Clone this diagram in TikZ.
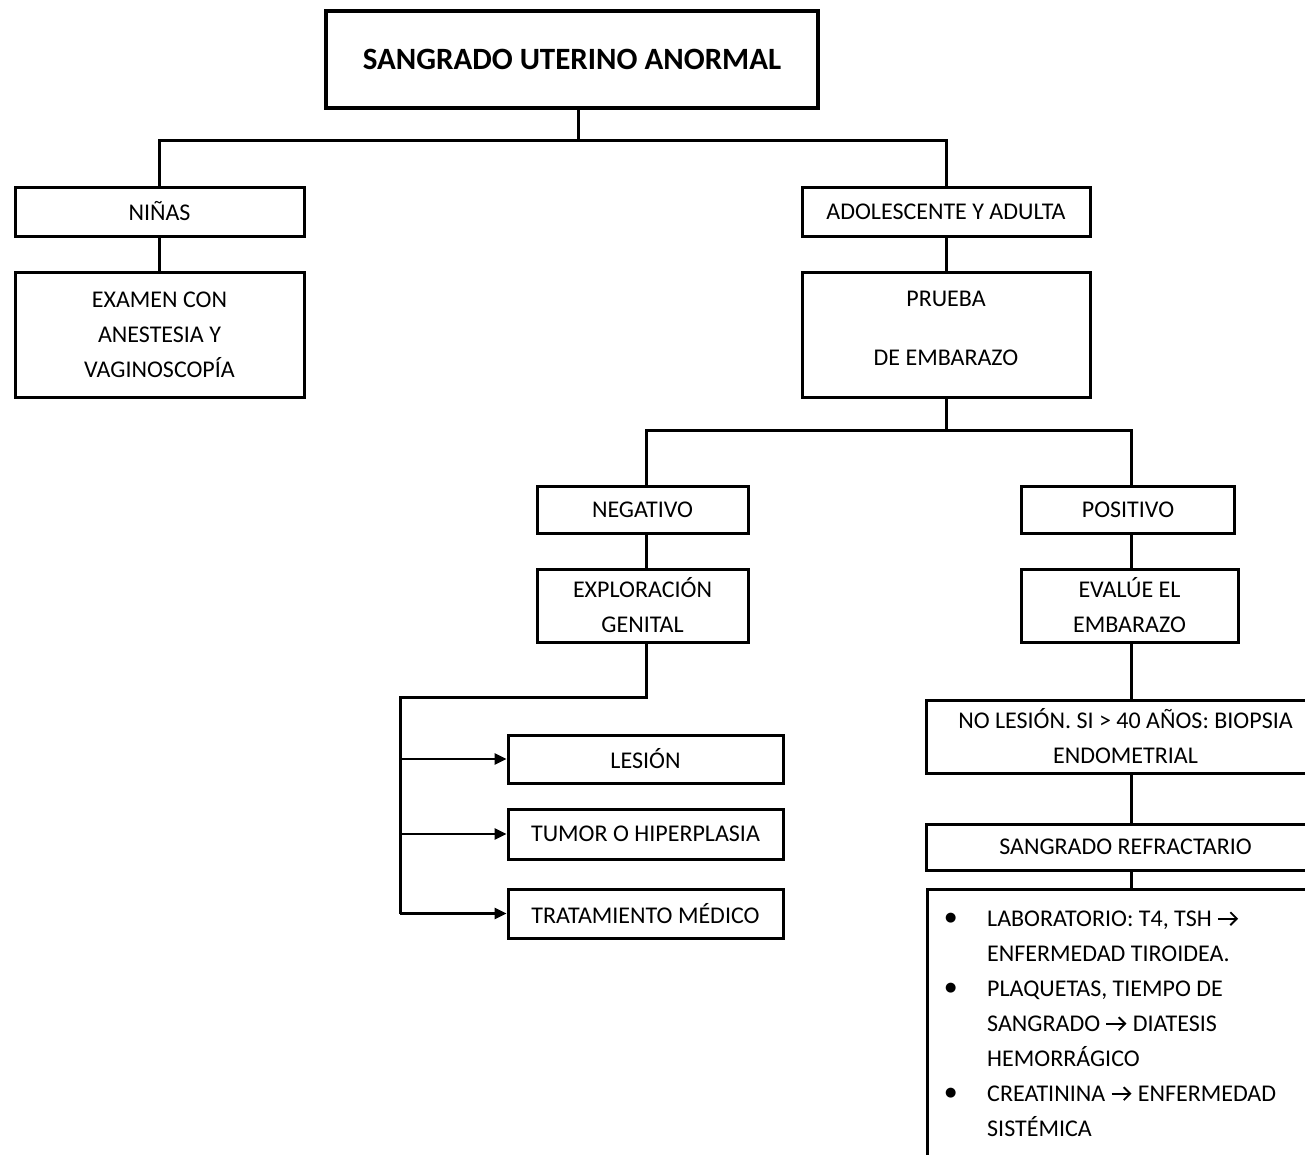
\documentclass[tikz,border=0pt]{standalone}
\usepackage{fontspec}
\setmainfont{Carlito}
\newfontfamily\symfont{DejaVu Sans}
\usetikzlibrary{arrows.meta}
% inline arrow used inside the lab list
\newcommand{\arr}{\tikz[baseline={(0pt,-8pt)},x=1pt,y=-1pt]
  \draw[line width=1.8pt,-{Straight Barb[length=6.5pt,width=13pt,line width=1.8pt]}] (0,0) -- (20,0);}
\newcommand{\blt}{\raisebox{5pt}{\symfont\fontsize{13}{13}\selectfont ●}}
\begin{document}
\begin{tikzpicture}[x=1pt,y=-1pt,
  box/.style={draw,line width=3pt,rectangle,inner sep=0pt,align=center,
    font=\fontsize{24}{35}\selectfont},
  link/.style={line width=3pt},
  arrowlink/.style={line width=2.6pt,-{Triangle[length=12pt,width=11pt]}}]
\useasboundingbox (0,0) rectangle (1305,1154);
\clip (0,0) rectangle (1305,1154);

% top level
\node[box,line width=3.6pt,minimum width=492pt,minimum height=97pt,
  font=\fontsize{31}{36}\selectfont\bfseries] (title) at (572,59.5) {SANGRADO UTERINO ANORMAL};

% left branch
\node[box,minimum width=289pt,minimum height=49pt] (ninas) at (159.5,211.5) {NIÑAS};
\node[box,minimum width=289pt,minimum height=125pt] (examen) at (159.5,334.5)
  {EXAMEN CON\\ANESTESIA Y\\VAGINOSCOPÍA};

% right branch
\node[box,minimum width=288pt,minimum height=49pt] (adol) at (946,211.5) {ADOLESCENTE Y ADULTA};
\node[box,minimum width=288pt,minimum height=125pt] (prueba) at (946,334.5)
  {PRUEBA\\[24pt]DE EMBARAZO\\[-23pt]\mbox{}};

% pregnancy test outcomes
\node[box,minimum width=211pt,minimum height=47pt] (neg) at (642.5,509.5) {NEGATIVO};
\node[box,minimum width=211pt,minimum height=73pt] (expl) at (642.5,605.5) {EXPLORACIÓN\\GENITAL};
\node[box,minimum width=213pt,minimum height=47pt] (pos) at (1128,509.5) {POSITIVO};
\node[box,minimum width=217pt,minimum height=73pt] (eval) at (1129.5,605.5) {EVALÚE EL\\EMBARAZO};

% findings after genital exploration
\node[box,minimum width=275pt,minimum height=48pt] (lesion) at (645.5,759) {LESIÓN};
\node[box,minimum width=275pt,minimum height=50pt] (tumor) at (645.5,834) {TUMOR O HIPERPLASIA};
\node[box,minimum width=275pt,minimum height=49pt] (trat) at (645.5,913.5) {TRATAMIENTO MÉDICO};

% positive test path
\node[box,minimum width=399pt,minimum height=73pt] (nolesion) at (1125.5,736.5)
  {NO LESIÓN. SI > 40 AÑOS: BIOPSIA\\ENDOMETRIAL};
\node[box,minimum width=399pt,minimum height=46pt] (refr) at (1125.5,847) {SANGRADO REFRACTARIO};
\node[box,anchor=north west,minimum width=399pt,minimum height=290pt] (labs) at (926,888) {};
\node[anchor=north west,inner sep=0pt,font=\fontsize{24}{35}\selectfont] (labtext) at (945,902)
  {\begin{tabular}{@{}p{42pt}@{}l@{}}
   \blt & LABORATORIO: T4, TSH \arr\\
     & ENFERMEDAD TIROIDEA.\\
   \blt & PLAQUETAS, TIEMPO DE\\
     & SANGRADO \arr\ DIATESIS\\
     & HEMORRÁGICO\\
   \blt & CREATININA \arr\ ENFERMEDAD\\
     & SISTÉMICA
  \end{tabular}};

% connectors
\coordinate (b1) at (578,140);
\draw[link] (title.south -| b1) -- (b1);
\draw[link] (ninas.north) |- (b1) -| (adol.north);
\draw[link] (ninas) -- (examen);
\draw[link] (adol) -- (prueba);

\coordinate (b2) at (946,430);
\coordinate (pcol) at (1131,430);
\draw[link] (prueba.south) -- (b2);
\draw[link] (neg.north -| 646,0) |- (b2) -- (pcol) -- (pcol |- pos.north);
\draw[link] (neg.south -| 646,0) -- (expl.north -| 646,0);
\draw[link] (pos.south -| pcol) -- (eval.north -| pcol);
\draw[link] (eval.south -| pcol) -- (nolesion.north -| pcol);
\draw[link] (nolesion.south -| pcol) -- (refr.north -| pcol);
\draw[link] (refr.south -| pcol) -- (labs.north -| pcol);

\coordinate (b3) at (400,697);
\draw[link] (expl.south -| 646,0) |- (b3) -- (b3 |- trat.west);
\draw[arrowlink] (b3 |- lesion.west) -- (lesion.west);
\draw[arrowlink] (b3 |- tumor.west) -- (tumor.west);
\draw[arrowlink] (b3 |- trat.west) -- (trat.west);
\end{tikzpicture}
\end{document}
